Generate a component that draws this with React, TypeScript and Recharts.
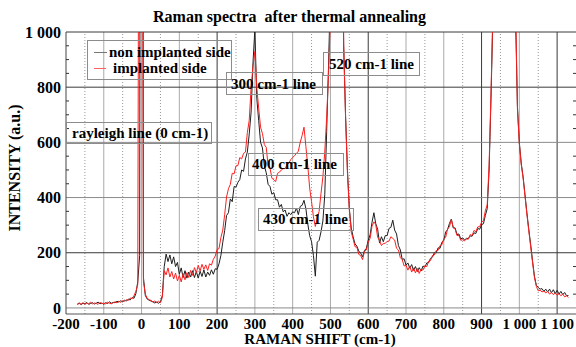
import React from 'react';
import { LineChart, Line, XAxis, YAxis, ReferenceLine } from 'recharts';

// Raman shift (cm-1)
const shifts = [
  -170, -165, -160, -155, -150, -145, -140, -135, -130, -125, -120, -115, -110, -105, -100, -95, -90, -85, -80, -75,
  -70, -65, -60, -55, -50, -45, -40, -35, -30, -25, -20, -15, -10, -5, 0, 5, 10, 15, 20, 25,
  30, 35, 40, 45, 50, 55, 60, 65, 70, 75, 80, 85, 90, 95, 100, 105, 110, 115, 120, 125,
  130, 135, 140, 145, 150, 155, 160, 165, 170, 175, 180, 185, 190, 195, 200, 205, 210, 215, 220, 225,
  230, 235, 240, 245, 250, 255, 260, 265, 270, 275, 280, 285, 290, 295, 300, 305, 310, 315, 320, 325,
  330, 335, 340, 345, 350, 355, 360, 365, 370, 375, 380, 385, 390, 395, 400, 405, 410, 415, 420, 425,
  430, 435, 440, 445, 450, 455, 460, 465, 470, 475, 480, 485, 490, 495, 500, 505, 510, 515, 520, 525,
  530, 535, 540, 545, 550, 555, 560, 565, 570, 575, 580, 585, 590, 595, 600, 605, 610, 615, 620, 625,
  630, 635, 640, 645, 650, 655, 660, 665, 670, 675, 680, 685, 690, 695, 700, 705, 710, 715, 720, 725,
  730, 735, 740, 745, 750, 755, 760, 765, 770, 775, 780, 785, 790, 795, 800, 805, 810, 815, 820, 825,
  830, 835, 840, 845, 850, 855, 860, 865, 870, 875, 880, 885, 890, 895, 900, 905, 910, 915, 920, 925,
  930, 935, 940, 945, 950, 955, 960, 965, 970, 975, 980, 985, 990, 995, 1000, 1005, 1010, 1015, 1020, 1025,
  1030, 1035, 1040, 1045, 1050, 1055, 1060, 1065, 1070, 1075, 1080, 1085, 1090, 1095, 1100, 1105, 1110, 1115, 1120, 1125,
  1130,
];

// non implanted side (black)
const nonImplanted = [
  14, 18, 12, 17, 15, 20, 13, 16, 19, 14, 17, 21, 15, 18, 13, 19, 16, 22, 17, 20,
  19, 24, 21, 26, 22, 28, 25, 32, 29, 38, 35, 52, 95, 190, 6000, 110, 45, 32, 28, 25,
  22, 18, 21, 17, 22, 45, 150, 195, 168, 192, 160, 185, 150, 165, 122, 145, 110, 135, 108, 130,
  112, 135, 110, 132, 108, 133, 114, 138, 112, 130, 118, 138, 122, 142, 140, 160, 190, 238, 280, 335,
  345, 395, 385, 440, 438, 455, 465, 500, 495, 540, 565, 630, 710, 890, 1010, 760, 680, 600, 580, 515,
  490, 448, 440, 412, 418, 392, 392, 365, 375, 348, 355, 332, 345, 338, 348, 345, 362, 338, 368, 372,
  390, 360, 305, 262, 240, 190, 115, 238, 245, 276, 315, 410, 640, 880, 1150, 1600, 2300, 3000, 3500, 3000,
  1700, 950, 700, 500, 360, 290, 258, 232, 224, 206, 198, 185, 208, 216, 245, 265, 310, 345, 305, 285,
  235, 258, 240, 262, 262, 288, 292, 318, 282, 268, 226, 210, 176, 178, 155, 163, 144, 157, 136, 150,
  132, 146, 134, 152, 148, 163, 164, 180, 184, 200, 200, 218, 216, 238, 244, 275, 284, 306, 322, 290,
  290, 266, 268, 250, 254, 246, 252, 252, 261, 260, 272, 270, 288, 285, 302, 305, 335, 360, 500, 760,
  1050, 1800, 3000, 4000, 4500, 4800, 5000, 4800, 4200, 3500, 2600, 1800, 1050, 730, 600, 525, 475, 410, 345, 285,
  230, 170, 115, 82, 74, 68, 70, 60, 68, 58, 68, 55, 66, 52, 64, 50, 60, 48, 56, 44,
  45,
];

// implanted side (red)
const implanted = [
  12, 16, 14, 19, 13, 17, 15, 21, 14, 18, 16, 13, 20, 15, 18, 14, 21, 17, 15, 19,
  22, 18, 25, 20, 27, 24, 30, 27, 36, 33, 45, 60, 85, 3000, 3000, 95, 50, 35, 30, 27,
  22, 25, 20, 24, 19, 38, 135, 120, 145, 112, 132, 105, 126, 98, 118, 94, 124, 102, 128, 110,
  136, 118, 146, 128, 154, 134, 158, 140, 156, 136, 160, 155, 176, 188, 212, 215, 255, 282, 338, 402,
  432, 448, 488, 486, 515, 516, 545, 540, 560, 565, 635, 680, 800, 875, 930, 800, 725, 655, 632, 592,
  582, 515, 508, 470, 465, 458, 488, 492, 500, 505, 505, 518, 525, 538, 545, 552, 560, 568, 600, 625,
  655, 585, 515, 435, 385, 330, 295, 325, 350, 415, 475, 565, 690, 850, 1060, 1600, 2300, 3000, 3500, 3000,
  1700, 960, 690, 490, 355, 275, 250, 222, 220, 194, 190, 175, 205, 210, 238, 252, 296, 312, 302, 256,
  244, 226, 234, 234, 241, 242, 258, 252, 246, 216, 210, 182, 175, 152, 155, 137, 152, 130, 145, 127,
  143, 125, 141, 137, 153, 150, 170, 172, 190, 192, 208, 209, 226, 229, 251, 256, 286, 294, 320, 292,
  285, 262, 263, 245, 247, 243, 250, 249, 266, 262, 281, 276, 294, 294, 311, 316, 352, 374, 520, 780,
  1080, 1800, 3000, 4000, 4500, 4800, 5000, 4800, 4200, 3500, 2600, 1800, 1100, 720, 595, 520, 470, 405, 340, 280,
  222, 165, 110, 78, 62, 64, 58, 62, 54, 60, 50, 56, 48, 54, 46, 52, 44, 50, 40, 44,
  38,
];

const xTicks = [-200, -100, 0, 100, 200, 300, 400, 500, 600, 700, 800, 900, 1000, 1100];
const xMajorGrid = [-100, 0, 100, 200, 300, 400, 500, 600, 700, 800, 900, 1000, 1100];
const xDarkGrid = [200, 600, 900, 1100];
const xMinorGrid = [-150, -50, 50, 150, 250, 350, 450, 550, 650, 750, 850, 950, 1050];
const yTicks = [0, 200, 400, 600, 800, 1000];
const yDarkGrid = [200, 800, 1000];
const yMinorTicks = [50, 100, 150, 250, 300, 350, 450, 500, 550, 650, 700, 750, 850, 900, 950];

const title = 'Raman spectra  after thermal annealing';
const xTitle = 'RAMAN SHIFT (cm-1)';
const yTitle = 'INTENSITY (a.u.)';
const seriesNames = ['non implanted side', 'implanted side'];
const annotationTexts = ['rayleigh line (0 cm-1)', '300 cm-1 line', '520 cm-1 line', '400 cm-1 line', '430 cm-1 line'];

const data = shifts.map((x, i) => ({ x, black: nonImplanted[i], red: implanted[i] }));

const W = 576;
const H = 347;
const FONT = '"Liberation Serif", "Times New Roman", serif';
const BLACK = '#1e1e1e';
const RED = '#ff1f1f';

// annotation box layout (pixels)
const boxLayout = [
  { x: 66, y: 122, w: 145, h: 21, tx: 72, ty: 138 },
  { x: 226, y: 72, w: 96, h: 22, tx: 231, ty: 89 },
  { x: 323, y: 52, w: 96, h: 23, tx: 329, ty: 69 },
  { x: 248, y: 153, w: 95, h: 22, tx: 252, ty: 169 },
  { x: 258, y: 208, w: 95, h: 22, tx: 263, ty: 224 },
];

const fmt = (v: number) => {
  if (Math.abs(v) >= 1000) {
    const th = Math.trunc(v / 1000);
    const rest = String(Math.abs(v) % 1000).padStart(3, '0');
    return `${th} ${rest}`;
  }
  return String(v);
};

const xTickStyle = { fontFamily: FONT, fontWeight: 700, fontSize: 15, fill: '#000' };
const yTickStyle = { fontFamily: FONT, fontWeight: 700, fontSize: 16, fill: '#000' };

export default function App() {
  return (
    <div style={{ position: 'fixed', left: 0, top: 0, width: W, height: H, background: '#fff' }}>
      <div style={{ position: 'absolute', left: 0, top: 0 }}>
        <LineChart width={W} height={H} data={data} margin={{ top: 32, right: 0, bottom: 0, left: 0 }}>
          <XAxis
            dataKey="x"
            type="number"
            domain={[-200, 1150]}
            allowDataOverflow
            ticks={xTicks}
            tickFormatter={fmt}
            tickLine={false}
            tickSize={0}
            tickMargin={4}
            height={33}
            axisLine={{ stroke: '#555', strokeWidth: 1 }}
            tick={xTickStyle}
            interval={0}
          />
          <YAxis
            yAxisId="main"
            type="number"
            domain={[-22, 1000]}
            allowDataOverflow
            ticks={yTicks}
            tickFormatter={fmt}
            tickLine={false}
            tickSize={0}
            tickMargin={5}
            width={66}
            axisLine={{ stroke: '#444', strokeWidth: 1 }}
            tick={yTickStyle}
            interval={0}
          />
          <YAxis
            yAxisId="lminor"
            type="number"
            domain={[-22, 1000]}
            allowDataOverflow
            ticks={yMinorTicks}
            tickFormatter={() => ''}
            mirror
            tickSize={3}
            tickLine={{ stroke: '#333' }}
            axisLine={false}
            interval={0}
          />
          <YAxis
            yAxisId="rminor"
            orientation="right"
            type="number"
            domain={[-22, 1000]}
            allowDataOverflow
            ticks={yMinorTicks}
            tickFormatter={() => ''}
            mirror
            tickSize={3}
            tickLine={{ stroke: '#333' }}
            axisLine={false}
            interval={0}
          />
          {xMinorGrid.map((v) => (
            <ReferenceLine key={`xm${v}`} yAxisId="main" x={v} stroke="#999" strokeDasharray="1 2" strokeWidth={1} />
          ))}
          {xMajorGrid.map((v) => (
            <ReferenceLine
              key={`xM${v}`}
              yAxisId="main"
              x={v}
              stroke={xDarkGrid.includes(v) ? '#3a3a3a' : '#aaaaaa'}
              strokeWidth={1}
            />
          ))}
          {yTicks.map((v) => (
            <ReferenceLine
              key={`y${v}`}
              yAxisId="main"
              y={v}
              stroke={yDarkGrid.includes(v) ? '#3a3a3a' : '#8a8a8a'}
              strokeWidth={1}
            />
          ))}
          <Line
            yAxisId="main"
            type="linear"
            dataKey="black"
            stroke={BLACK}
            strokeWidth={1}
            dot={false}
            isAnimationActive={false}
          />
          <Line
            yAxisId="main"
            type="linear"
            dataKey="red"
            stroke={RED}
            strokeWidth={1}
            dot={false}
            isAnimationActive={false}
          />
        </LineChart>
      </div>
      <svg
        width={W}
        height={H}
        style={{ position: 'absolute', left: 0, top: 0, pointerEvents: 'none' }}
        fontFamily={FONT}
        fontWeight={700}
      >
        <text x={289.5} y={22} textAnchor="middle" fontSize={16} style={{ whiteSpace: 'pre' }}>
          {title}
        </text>
        <text x={320} y={344} textAnchor="middle" fontSize={15}>
          {xTitle}
        </text>
        <text x={20} y={168} textAnchor="middle" fontSize={16} transform="rotate(-90 20 168)">
          {yTitle}
        </text>
        {/* legend */}
        <rect x={87.5} y={40.5} width={144} height={39} fill="none" stroke="#8c8c8c" strokeWidth={1} />
        <line x1={94} y1={52.5} x2={107} y2={52.5} stroke="#777" strokeWidth={1} />
        <line x1={94} y1={68.5} x2={106} y2={68.5} stroke="#ff6060" strokeWidth={1} />
        <text x={109} y={57} fontSize={15}>{seriesNames[0]}</text>
        <text x={113} y={73} fontSize={15}>{seriesNames[1]}</text>
        {annotationTexts.map((t, i) => {
          const b = boxLayout[i];
          return (
            <g key={t}>
              <rect x={b.x + 0.5} y={b.y + 0.5} width={b.w} height={b.h} fill="none" stroke="#8c8c8c" strokeWidth={1} />
              <text x={b.tx} y={b.ty} fontSize={15}>{t}</text>
            </g>
          );
        })}
      </svg>
    </div>
  );
}
